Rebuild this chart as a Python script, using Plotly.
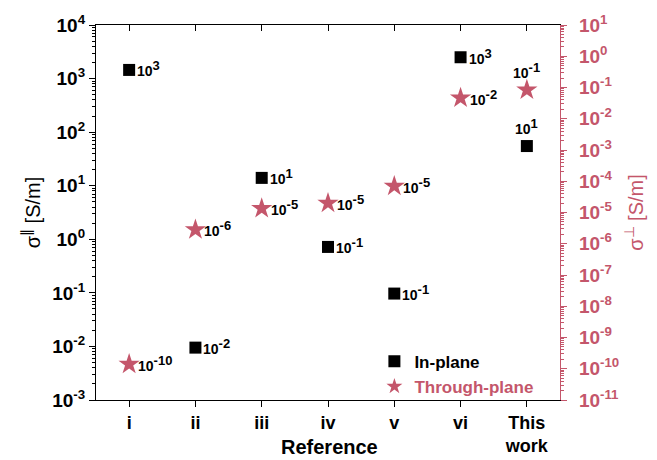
import math
import plotly.graph_objects as go

categories = ["i", "ii", "iii", "iv", "v", "vi", "This<br>work"]
in_plane = [1450, 0.0095, 14, 0.72, 0.097, 2500, 55]
through_plane = [1.4e-10, 2.8e-6, 1.35e-5, 2.0e-5, 7.0e-5, 0.046, 0.083]
in_plane_exp = [3, -2, 1, -1, -1, 3, 1]
through_plane_exp = [-10, -6, -5, -5, -5, -2, -1]
left_ticks = list(range(-3, 5))
right_ticks = list(range(-11, 2))

RED = "#C4566B"
FONT = "Liberation Sans, Arial, sans-serif"
xpos = list(range(len(categories)))


def minor_vals(decades):
    return [m * 10 ** k for k in decades[:-1] for m in range(2, 10)]


def pow_label(e, sup_px=None):
    if sup_px:
        return "10<sup><span style='font-size:%dpx'>%d</span></sup>" % (sup_px, e)
    return "10<sup>%d</sup>" % e


fig = go.Figure()
fig.add_trace(go.Scatter(
    x=xpos, y=in_plane, mode="markers", name="In-plane",
    marker=dict(symbol="square", size=12, color="black"),
    yaxis="y", xaxis="x"))
fig.add_trace(go.Scatter(
    x=xpos, y=through_plane, mode="markers",
    name='<span style="color:%s">Through-plane</span>' % RED,
    marker=dict(symbol="star", size=16, color=RED, line=dict(width=0)),
    yaxis="y2", xaxis="x"))

annos = []
last = len(categories) - 1
for series, exps, yref, xs in ((in_plane, in_plane_exp, "y", 6), (through_plane, through_plane_exp, "y2", 7)):
    for i, (v, e) in enumerate(zip(series, exps)):
        a = dict(x=i, y=math.log10(v), xref="x", yref=yref, text=pow_label(e, 13),
                 showarrow=False,
                 font=dict(family=FONT, size=14, color="black", weight="bold"))
        if i == last:
            a.update(xanchor="center", yanchor="bottom", yshift=7)
        else:
            a.update(xanchor="left", yanchor="middle", xshift=xs, yshift=1)
        annos.append(a)

annos.append(dict(x=0.504, y=-0.125, xref="paper", yref="paper", text="Reference",
                  showarrow=False, xanchor="center", yanchor="middle",
                  font=dict(family=FONT, size=20, color="black", weight="bold")))

fig.update_layout(
    width=657, height=460,
    margin=dict(l=96, r=97, t=25, b=60),
    paper_bgcolor="white", plot_bgcolor="white",
    font=dict(family=FONT, color="black"),
    showlegend=True,
    legend=dict(x=0.6, y=0.15, xanchor="left", yanchor="top",
                bgcolor="rgba(0,0,0,0)", font=dict(family=FONT, size=17, weight="bold"),
                itemsizing="constant", tracegroupgap=0),
    annotations=annos,
    xaxis=dict(
        range=[-0.5, 6.5], tickvals=xpos, ticktext=categories, automargin=False,
        ticks="outside", ticklen=6, tickwidth=1.2, tickcolor="black",
        showline=True, linecolor="black", linewidth=1.2, showgrid=False, zeroline=False,
        tickfont=dict(family=FONT, size=18, weight="bold"),
    ),
    xaxis3=dict(
        overlaying="x", side="top", range=[-0.5, 6.5], tickvals=xpos, automargin=False,
        ticks="inside", ticklen=6, tickwidth=1.2, tickcolor="black",
        showline=True, linecolor="black", linewidth=1.2, showgrid=False, zeroline=False,
        showticklabels=False,
    ),
    yaxis=dict(
        type="log", range=[-3, 4], automargin=False,
        tickvals=[10 ** k for k in left_ticks],
        ticktext=[pow_label(k) for k in left_ticks],
        ticks="outside", ticklen=6, tickwidth=1.2, tickcolor="black",
        minor=dict(tickmode="array", tickvals=minor_vals(left_ticks),
                   ticks="outside", ticklen=3, tickwidth=1, tickcolor="black", showgrid=False),
        showline=True, linecolor="black", linewidth=1.2, showgrid=False, zeroline=False,
        tickfont=dict(family=FONT, size=19, weight="bold"),
        title=dict(text="σ<sup>∥</sup> [S/m]", font=dict(family=FONT, size=20), standoff=6),
    ),
    yaxis2=dict(
        type="log", range=[-11, 1], overlaying="y", side="right", automargin=False,
        tickvals=[10 ** k for k in right_ticks],
        ticktext=[pow_label(k) for k in right_ticks],
        ticks="outside", ticklen=6, tickwidth=1.2, tickcolor=RED,
        ticklabelstandoff=8,
        minor=dict(tickmode="array", tickvals=minor_vals(right_ticks),
                   ticks="outside", ticklen=3, tickwidth=1, tickcolor=RED, showgrid=False),
        showline=True, linecolor=RED, linewidth=1.2, showgrid=False, zeroline=False,
        tickfont=dict(family=FONT, size=19, color=RED, weight="bold"),
        title=dict(text="σ<sup>⊥</sup> [S/m]", font=dict(family=FONT, size=20, color=RED), standoff=10),
    ),
)
fig.add_trace(go.Scatter(x=[None], y=[None], xaxis="x3", yaxis="y", showlegend=False, hoverinfo="skip"))

fig.write_html("out.html")
